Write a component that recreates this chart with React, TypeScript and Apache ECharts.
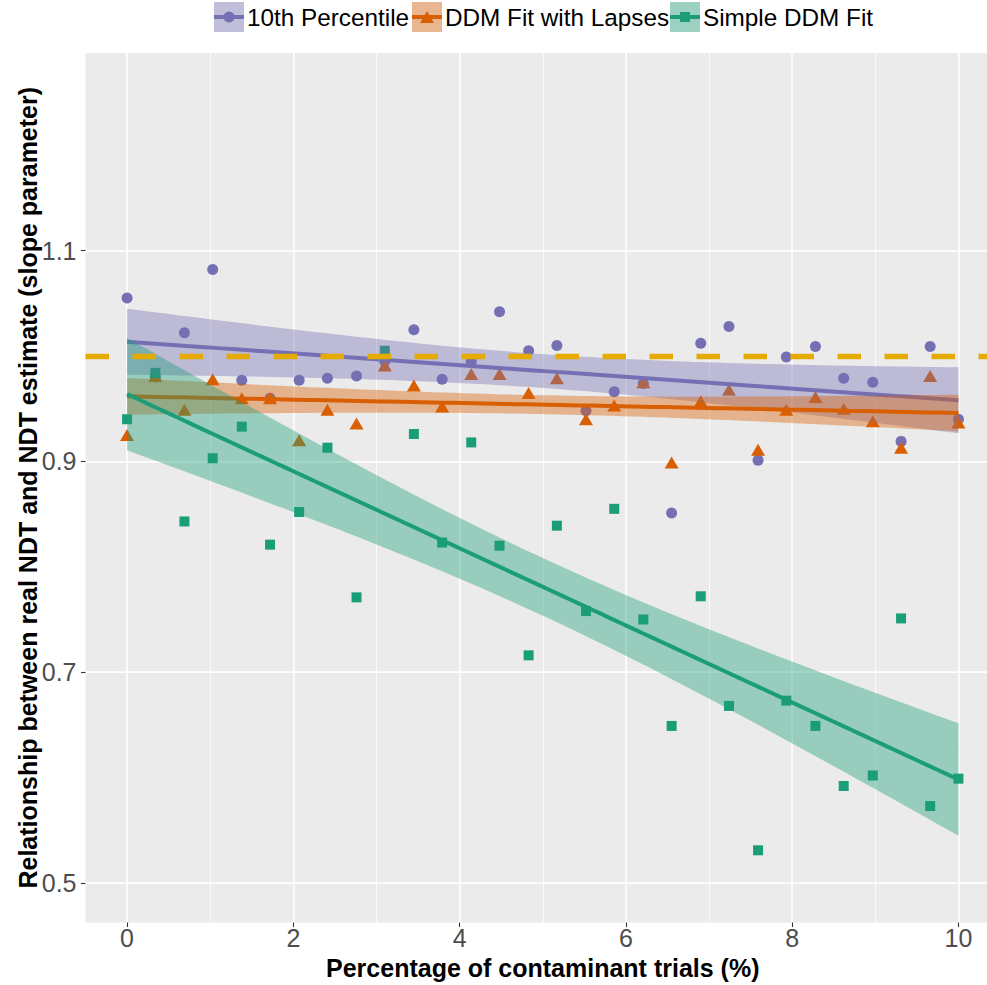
import React, { useEffect, useRef } from "react";
import * as echarts from "echarts";

// ---- data ----
const contaminationPct = [0, 0.34, 0.69, 1.03, 1.38, 1.72, 2.07, 2.41, 2.76, 3.1, 3.45, 3.79, 4.14, 4.48, 4.83, 5.17, 5.52, 5.86, 6.21, 6.55, 6.9, 7.24, 7.59, 7.93, 8.28, 8.62, 8.97, 9.31, 9.66, 10];
const percentile10 = [1.055, 0.98, 1.022, 1.082, 0.977, 0.96, 0.977, 0.979, 0.981, 0.995, 1.025, 0.978, 0.995, 1.042, 1.005, 1.01, 0.948, 0.966, 0.974, 0.851, 1.012, 1.028, 0.901, 0.999, 1.009, 0.979, 0.975, 0.919, 1.009, 0.94];
const ddmLapses = [0.925, 0.981, 0.949, 0.978, 0.96, 0.96, 0.92, 0.949, 0.936, 0.991, 0.972, 0.952, 0.983, 0.983, 0.965, 0.979, 0.94, 0.953, 0.975, 0.899, 0.957, 0.968, 0.911, 0.949, 0.961, 0.95, 0.938, 0.913, 0.981, 0.937];
const simpleDdm = [0.94, 0.984, 0.843, 0.903, 0.933, 0.821, 0.852, 0.913, 0.771, 1.005, 0.926, 0.823, 0.918, 0.82, 0.716, 0.839, 0.758, 0.855, 0.75, 0.649, 0.772, 0.668, 0.531, 0.673, 0.649, 0.592, 0.602, 0.751, 0.573, 0.599];
const referenceSlope = 1;
const xTickValues = [0, 2, 4, 6, 8, 10];
const yTickValues = [0.5, 0.7, 0.9, 1.1];
const seriesNames = ["10th Percentile", "DDM Fit with Lapses", "Simple DDM Fit"];
const seriesValues = [percentile10, ddmLapses, simpleDdm];

const COLORS = ["#7570B3", "#D95F02", "#1B9E77"];
const SYMBOLS = ["circle", "triangle", "rect"];
const SYMBOL_SIZES: any[] = [11, [14, 12], 10];
const FONT = "'Liberation Sans', Arial, Helvetica, sans-serif";

function hexA(hex: string, a: number) {
  const r = parseInt(hex.slice(1, 3), 16);
  const g = parseInt(hex.slice(3, 5), 16);
  const b = parseInt(hex.slice(5, 7), 16);
  return `rgba(${r},${g},${b},${a})`;
}

// ordinary least squares fit with 95% confidence band (like geom_smooth(method = "lm"))
function lmFit(xs: number[], ys: number[]) {
  const n = xs.length;
  const mx = xs.reduce((s, v) => s + v, 0) / n;
  const my = ys.reduce((s, v) => s + v, 0) / n;
  let sxx = 0, sxy = 0;
  for (let i = 0; i < n; i++) {
    sxx += (xs[i] - mx) ** 2;
    sxy += (xs[i] - mx) * (ys[i] - my);
  }
  const b = sxy / sxx;
  const a = my - b * mx;
  let sse = 0;
  for (let i = 0; i < n; i++) sse += (ys[i] - (a + b * xs[i])) ** 2;
  const s = Math.sqrt(sse / (n - 2));
  const t = 2.0484; // qt(0.975, 28)
  const xmin = Math.min(...xs), xmax = Math.max(...xs);
  const pts: number[][] = [];
  const N = 80;
  for (let k = 0; k < N; k++) {
    const x = xmin + ((xmax - xmin) * k) / (N - 1);
    const yhat = a + b * x;
    const se = s * Math.sqrt(1 / n + (x - mx) ** 2 / sxx);
    pts.push([x, yhat, yhat - t * se, yhat + t * se]);
  }
  return pts;
}

export default function App() {
  const ref = useRef<HTMLDivElement>(null);
  useEffect(() => {
    if (!ref.current) return;
    const chart = echarts.init(ref.current, undefined, { renderer: "svg" });
    const fits = seriesValues.map((ys) => lmFit(contaminationPct, ys));

    const series: any[] = [];
    // points first
    seriesValues.forEach((ys, i) => {
      series.push({
        type: "scatter",
        name: seriesNames[i],
        data: ys.map((y, k) => [contaminationPct[k], y]),
        symbol: SYMBOLS[i],
        symbolSize: SYMBOL_SIZES[i],
        itemStyle: { color: COLORS[i], opacity: 1 },
        z: 2,
        silent: true,
      });
    });
    // ribbons + lines, in group order
    fits.forEach((pts, i) => {
      series.push({
        type: "custom",
        name: seriesNames[i] + " band",
        data: pts.map((p) => [p[0], p[2], p[3]]),
        z: 3 + i * 2,
        silent: true,
        clip: true,
        renderItem: (params: any, api: any) => {
          if (params.dataIndex !== 0) return null;
          const upper = pts.map((p) => api.coord([p[0], p[3]]));
          const lower = pts.map((p) => api.coord([p[0], p[2]])).reverse();
          return {
            type: "polygon",
            shape: { points: upper.concat(lower) },
            style: { fill: hexA(COLORS[i], 0.4), stroke: "none" },
          };
        },
      });
      series.push({
        type: "line",
        name: seriesNames[i] + " fit",
        data: pts.map((p) => [p[0], p[1]]),
        showSymbol: false,
        symbol: "none",
        lineStyle: { color: COLORS[i], width: 4 },
        z: 4 + i * 2,
        silent: true,
      });
    });
    // reference line
    series.push({
      type: "line",
      name: "reference",
      data: [],
      z: 10,
      silent: true,
      markLine: {
        silent: true,
        z: 10,
        symbol: ["none", "none"],
        label: { show: false },
        lineStyle: { color: "#E6AB02", width: 5.3, type: [23.5, 23.5], opacity: 1 },
        data: [{ yAxis: referenceSlope }],
      },
    });

    // legend drawn as graphic keys
    const keyX = [214, 412, 670];
    const legendChildren: any[] = [];
    seriesNames.forEach((name, i) => {
      const kx = keyX[i];
      const ky = 2;
      const ks = 30;
      let marker: any;
      if (i === 0) marker = { type: "circle", shape: { cx: kx + ks / 2, cy: ky + ks / 2, r: 5.5 }, style: { fill: COLORS[i] } };
      else if (i === 1)
        marker = {
          type: "polygon",
          shape: { points: [[kx + ks / 2, ky + ks / 2 - 6], [kx + ks / 2 - 7, ky + ks / 2 + 6], [kx + ks / 2 + 7, ky + ks / 2 + 6]] },
          style: { fill: COLORS[i] },
        };
      else marker = { type: "rect", shape: { x: kx + ks / 2 - 5, y: ky + ks / 2 - 5, width: 10, height: 10 }, style: { fill: COLORS[i] } };
      legendChildren.push(
        { type: "rect", shape: { x: kx, y: ky, width: ks, height: ks }, style: { fill: "#F2F2F2" } },
        { type: "rect", shape: { x: kx, y: ky, width: ks, height: ks }, style: { fill: hexA(COLORS[i], 0.4) } },
        { type: "line", shape: { x1: kx, y1: ky + ks / 2, x2: kx + ks, y2: ky + ks / 2 }, style: { stroke: COLORS[i], lineWidth: 4 } },
        marker,
        {
          type: "text",
          x: kx + ks + 3,
          y: ky + ks / 2,
          style: { text: name, fontSize: 24.3, fontFamily: FONT, fill: "#000", verticalAlign: "middle", align: "left" },
        }
      );
    });

    const option: any = {
      animation: false,
      backgroundColor: "#ffffff",
      grid: {
        left: 85.5,
        top: 53,
        width: 914.5,
        height: 874,
        containLabel: false,
        show: true,
        backgroundColor: "#EBEBEB",
        borderWidth: 0,
      },
      xAxis: {
        type: "value",
        min: -0.5,
        max: 10.5,
        splitNumber: 5,
        name: "Percentage of contaminant trials (%)",
        nameLocation: "middle",
        nameGap: 35,
        nameMoveOverlap: false,
        nameTextStyle: { fontSize: 25, lineHeight: 20, fontWeight: "bold", color: "#000", fontFamily: FONT },
        axisLine: { show: false, onZero: false },
        axisTick: { show: true, length: 4.5, lineStyle: { color: "#333333", width: 1.1 }, customValues: xTickValues },
        axisLabel: { customValues: xTickValues, fontSize: 25, lineHeight: 20, color: "#4D4D4D", margin: 5, fontFamily: FONT, formatter: (v: number) => String(v) },
        splitLine: { show: true, lineStyle: { color: "#FFFFFF", width: 1.6 } },
        minorTick: { show: false, splitNumber: 2 },
        minorSplitLine: { show: true, lineStyle: { color: "#FFFFFF", width: 0.8 } },
      },
      yAxis: {
        type: "value",
        min: 0.4625,
        max: 1.2875,
        splitNumber: 5,
        name: "Relationship between real NDT and NDT estimate (slope parameter)",
        nameLocation: "middle",
        nameGap: 47,
        nameMoveOverlap: false,
        nameTextStyle: { fontSize: 25, lineHeight: 22, fontWeight: "bold", color: "#000", fontFamily: FONT },
        axisLine: { show: false, onZero: false },
        axisTick: { show: true, length: 4.5, lineStyle: { color: "#333333", width: 1.1 }, customValues: yTickValues },
        axisLabel: { customValues: yTickValues, fontSize: 25, color: "#4D4D4D", margin: 9, fontFamily: FONT, formatter: (v: number) => v.toFixed(1) },
        // nice ticks fall on 0.6/0.8/1.0/1.2 (minor grid), minor split on 0.5/0.7/0.9/1.1 (major grid)
        splitLine: { show: true, lineStyle: { color: "#FFFFFF", width: 0.8 } },
        minorTick: { show: false, splitNumber: 2 },
        minorSplitLine: { show: true, lineStyle: { color: "#FFFFFF", width: 1.6 } },
      },
      graphic: { elements: legendChildren.map((c) => ({ ...c, z: 100 })) },
      series,
    };
    chart.setOption(option);
    return () => chart.dispose();
  }, []);
  return (
    <div
      ref={ref}
      style={{ position: "fixed", left: 0, top: 0, width: 1001, height: 985 }}
    />
  );
}
